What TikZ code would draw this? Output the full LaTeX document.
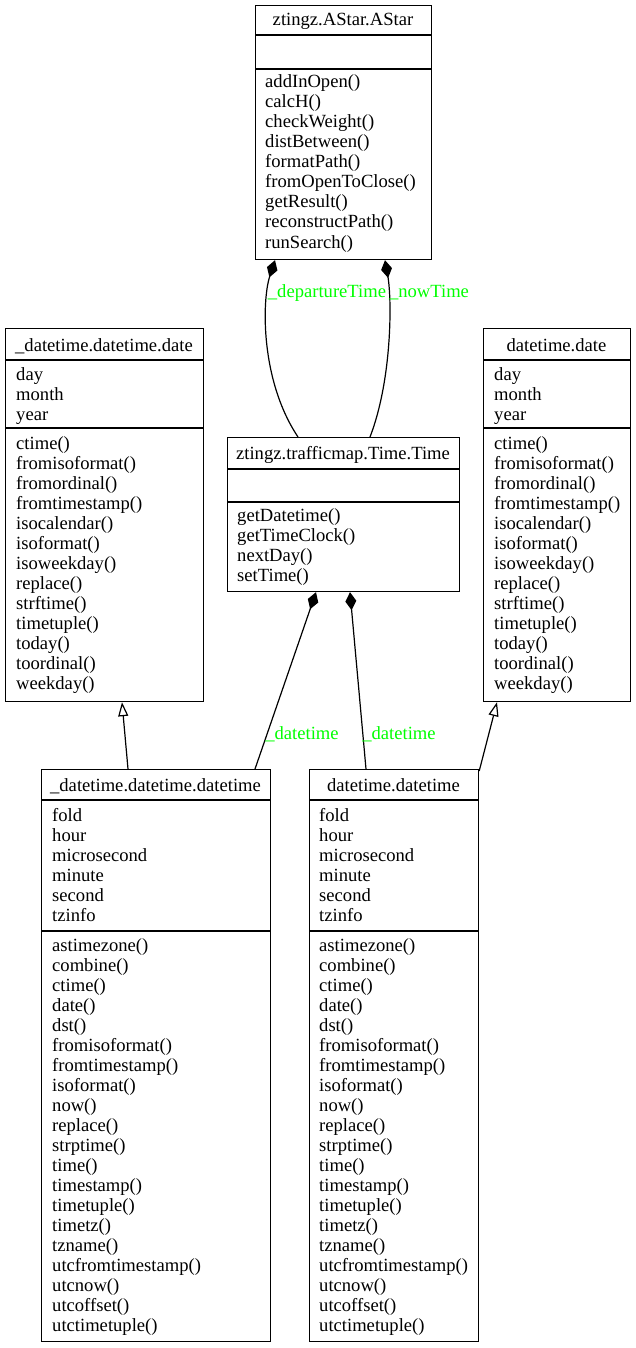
\documentclass[tikz,border=0pt]{standalone}
\usepackage{fontspec}
\setmainfont{Liberation Serif}
\usetikzlibrary{arrows.meta}
\definecolor{lbl}{RGB}{0,255,0}
\begin{document}
\begin{tikzpicture}[x=1pt,y=-1pt,
  every node/.style={font=\fontsize{18.6}{20}\selectfont},
  cls/.style={draw,line width=1.2pt,rectangle,inner sep=0,anchor=north west},
  sep/.style={line width=1.2pt},
  item/.style={anchor=base west,inner sep=0},
  ttl/.style={anchor=base,inner sep=0},
  elabel/.style={text=lbl,inner sep=0},
  edge/.style={line width=1.2pt},
  comp/.style={edge,{Diamond[length=18pt,width=11pt]}-},
  inh/.style={edge,-{Triangle[open,length=14pt,width=10pt]}}]
\useasboundingbox (0,0) rectangle (635,1348);

% ztingz.AStar.AStar
\node[cls,minimum width=176pt,minimum height=254pt] (astar) at (255,5) {};
\draw[sep] (255,35) -- (431,35) (255,69) -- (431,69);
\node[ttl] (astarT) at (343,26) {ztingz.AStar.AStar};
\foreach \t [count=\i from 0] in {addInOpen(),calcH(),checkWeight(),distBetween(),formatPath(),fromOpenToClose(),getResult(),reconstructPath(),runSearch()}
  \node[item] (astarM\i) at (265,88+20*\i) {\t};

% _datetime.datetime.date
\node[cls,minimum width=198pt,minimum height=373pt] (dtdate) at (5,328) {};
\draw[sep] (5,360) -- (203,360) (5,428) -- (203,428);
\node[ttl] (dtdateT) at (104,351) {\_datetime.datetime.date};
\foreach \t [count=\i from 0] in {day,month,year}
  \node[item] (dtdateA\i) at (16,380+20*\i) {\t};
\foreach \t [count=\i from 0] in {ctime(),fromisoformat(),fromordinal(),fromtimestamp(),isocalendar(),isoformat(),isoweekday(),replace(),strftime(),timetuple(),today(),toordinal(),weekday()}
  \node[item] (dtdateM\i) at (16,449+20*\i) {\t};

% datetime.date
\node[cls,minimum width=147pt,minimum height=373pt] (date) at (483,328) {};
\draw[sep] (483,360) -- (630,360) (483,428) -- (630,428);
\node[ttl] (dateT) at (556.5,351) {datetime.date};
\foreach \t [count=\i from 0] in {day,month,year}
  \node[item] (dateA\i) at (494,380+20*\i) {\t};
\foreach \t [count=\i from 0] in {ctime(),fromisoformat(),fromordinal(),fromtimestamp(),isocalendar(),isoformat(),isoweekday(),replace(),strftime(),timetuple(),today(),toordinal(),weekday()}
  \node[item] (dateM\i) at (494,449+20*\i) {\t};

% ztingz.trafficmap.Time.Time
\node[cls,minimum width=232pt,minimum height=154pt] (time) at (227,437) {};
\draw[sep] (227,469) -- (459,469) (227,502) -- (459,502);
\node[ttl] (timeT) at (343,459) {ztingz.trafficmap.Time.Time};
\foreach \t [count=\i from 0] in {getDatetime(),getTimeClock(),nextDay(),setTime()}
  \node[item] (timeM\i) at (237,521+20*\i) {\t};

% _datetime.datetime.datetime
\node[cls,minimum width=229pt,minimum height=572pt] (dtdt) at (41,769) {};
\draw[sep] (41,800) -- (270,800) (41,931) -- (270,931);
\node[ttl] (dtdtT) at (155.5,791) {\_datetime.datetime.datetime};
\foreach \t [count=\i from 0] in {fold,hour,microsecond,minute,second,tzinfo}
  \node[item] (dtdtA\i) at (52,821+20*\i) {\t};
\foreach \t [count=\i from 0] in {astimezone(),combine(),ctime(),date(),dst(),fromisoformat(),fromtimestamp(),isoformat(),now(),replace(),strptime(),time(),timestamp(),timetuple(),timetz(),tzname(),utcfromtimestamp(),utcnow(),utcoffset(),utctimetuple()}
  \node[item] (dtdtM\i) at (52,951+20*\i) {\t};

% datetime.datetime
\node[cls,minimum width=169pt,minimum height=572pt] (dd) at (309,769) {};
\draw[sep] (309,800) -- (478,800) (309,931) -- (478,931);
\node[ttl] (ddT) at (393.5,791) {datetime.datetime};
\foreach \t [count=\i from 0] in {fold,hour,microsecond,minute,second,tzinfo}
  \node[item] (ddA\i) at (319,821+20*\i) {\t};
\foreach \t [count=\i from 0] in {astimezone(),combine(),ctime(),date(),dst(),fromisoformat(),fromtimestamp(),isoformat(),now(),replace(),strptime(),time(),timestamp(),timetuple(),timetz(),tzname(),utcfromtimestamp(),utcnow(),utcoffset(),utctimetuple()}
  \node[item] (ddM\i) at (319,951+20*\i) {\t};

% compositions
\draw[comp] ([xshift=20]astar.south west) .. controls (262,300) and (260,380) .. ([xshift=71]time.north west);
\draw[comp] ([xshift=130]astar.south west) .. controls (392,300) and (392,380) .. ([xshift=143]time.north west);
\draw[comp] ([xshift=89]time.south west) -- ([xshift=214]dtdt.north west);
\draw[comp] ([xshift=123]time.south west) -- ([xshift=57]dd.north west);

% inheritance
\draw[inh] ([xshift=87]dtdt.north west) -- ([xshift=117]dtdate.south west);
\draw[inh] ([yshift=-2]dd.north east) -- ([xshift=14]date.south west);

% association labels
\node[elabel] (l1) at (327,293) {\_departureTime};
\node[elabel] (l2) at (429,293) {\_nowTime};
\node[elabel] (l3) at (302,734) {\_datetime};
\node[elabel] (l4) at (399,734) {\_datetime};
\end{tikzpicture}
\end{document}
